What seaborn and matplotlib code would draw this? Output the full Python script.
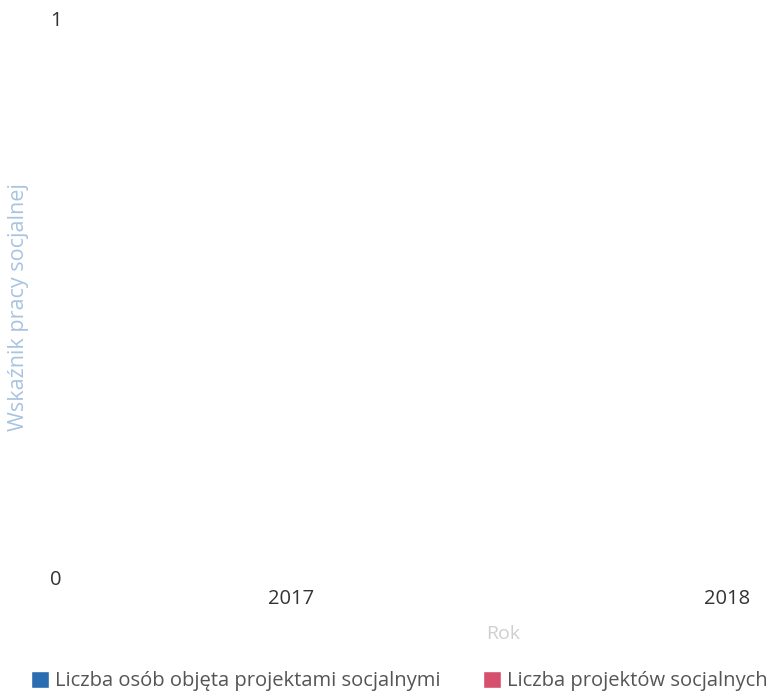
import pandas as pd
import matplotlib
matplotlib.use("Agg")
import matplotlib.pyplot as plt
import seaborn as sns

# dane z wykresu (oba szeregi puste / zerowe)
years = ["2017", "2018"]
series = ["Liczba osób objęta projektami socjalnymi", "Liczba projektów socjalnych"]
persons = [0, 0]
projects = [0, 0]
colors = ["#2a6db0", "#d6506e"]

df = pd.DataFrame({
    "rok": years * 2,
    "seria": [series[0]] * len(years) + [series[1]] * len(years),
    "wartosc": persons + projects,
})

sns.set_theme(style="white")
plt.rcParams["font.family"] = ["Open Sans", "DejaVu Sans"]

fig = plt.figure(figsize=(7.7, 6.97), dpi=100)
ax = fig.add_axes([0.097, 0.172, 0.896, 0.802])

sns.barplot(data=df, x="rok", y="wartosc", hue="seria", palette=colors,
            saturation=1, ax=ax)

ax.set_xlim(-0.495, 1.087)
ax.set_ylim(0, 1)
ax.set_yticks([0, 1])
ax.set_yticklabels(["0", "1"])
ax.tick_params(axis="both", length=0, labelsize=14.5, colors="#333333")
ax.tick_params(axis="x", pad=8.6)
ax.tick_params(axis="y", pad=9.4)
sns.despine(ax=ax, left=True, bottom=True)

ax.set_xlabel("Rok", color="#cfcfcf", fontsize=14)
ax.xaxis.set_label_coords(0.621, -0.085)
ax.set_ylabel("Wskaźnik pracy socjalnej", color="#a9c4e0", fontsize=15.5)
ax.yaxis.set_label_coords(-0.066, 0.483)

handles, labels = ax.get_legend_handles_labels()
ax.get_legend().remove()
fig.legend(handles, labels, loc="center left", bbox_to_anchor=(0.040, 0.023),
           ncol=2, frameon=False, fontsize=14.5, handlelength=0.9, handleheight=0.9,
           handletextpad=0.3, columnspacing=2.1, borderpad=0, borderaxespad=0,
           labelcolor="#555555")

fig.savefig("out.png", dpi=100)
